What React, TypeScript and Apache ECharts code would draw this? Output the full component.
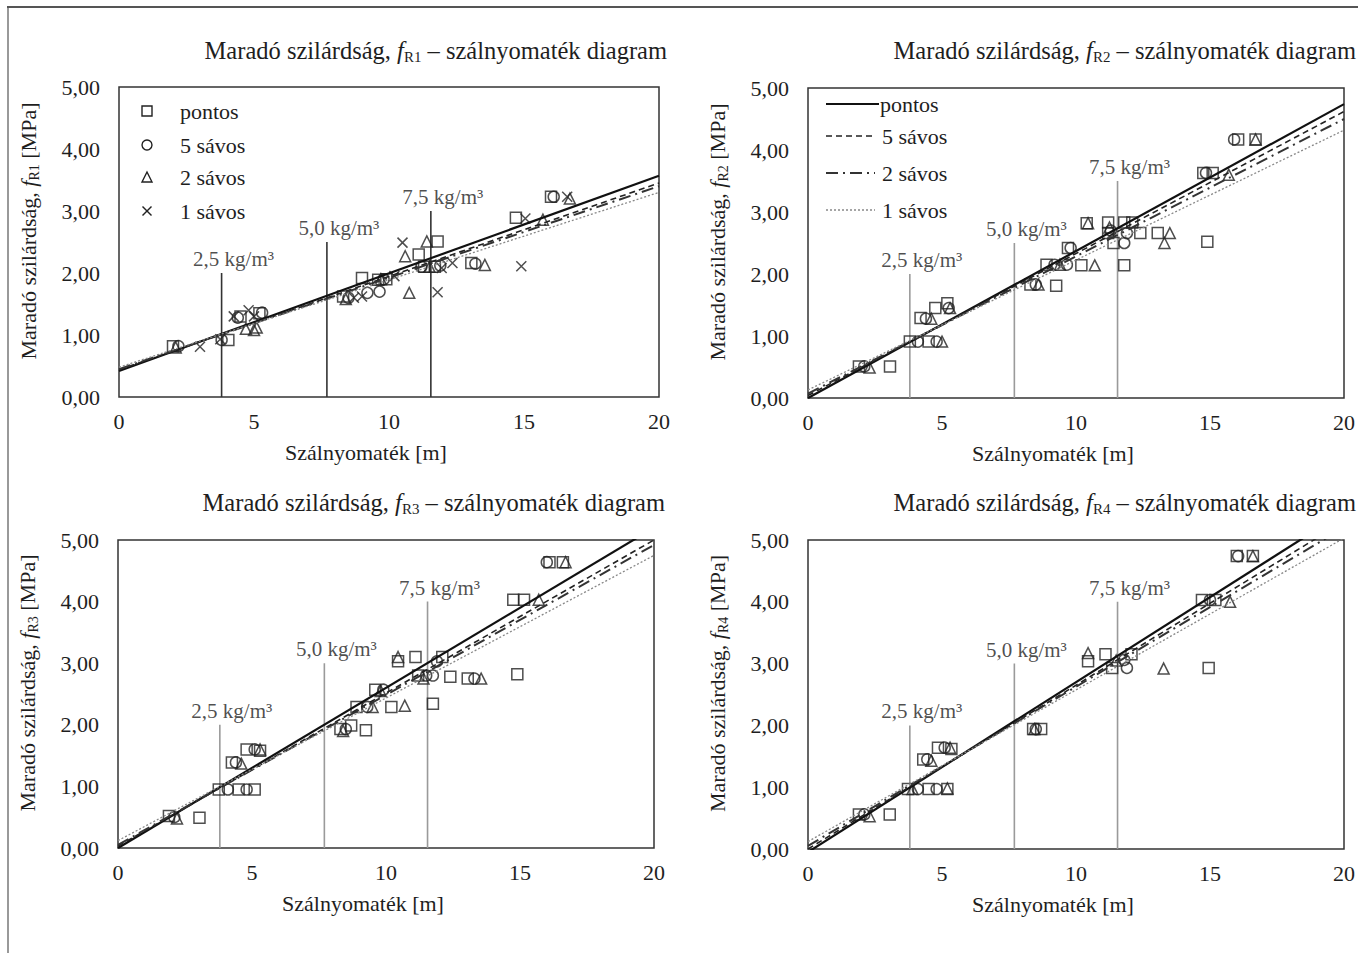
import React, { useEffect, useRef } from 'react';
import * as echarts from 'echarts';

const FONT = '"Liberation Serif", "Times New Roman", serif';
const INK = '#1e1e1e';

// ---- data ----
const seriesNames = ['pontos', '5 sávos', '2 sávos', '1 sávos'];
const chartSubs = ['R1', 'R2', 'R3', 'R4'];
const xTicks = [0, 5, 10, 15, 20];
const yTicks = [0, 1, 2, 3, 4, 5];
const doseX = [3.8, 7.7, 11.55];
const doseLabels = ['2,5 kg/m³', '5,0 kg/m³', '7,5 kg/m³'];
const doseTops1 = [2.0, 2.5, 3.0];
const doseTops2 = [2.0, 2.5, 3.5];
const doseTops3 = [2.0, 3.0, 4.0];
const doseTops4 = [2.0, 3.0, 4.0];

// regression lines: [value at x=0, value at x=20] for pontos, 5 sávos, 2 sávos, 1 sávos
const fit1 = [[0.42, 3.57], [0.44, 3.45], [0.45, 3.40], [0.48, 3.30]];
const fit2 = [[0.0, 4.74], [0.04, 4.62], [0.07, 4.50], [0.13, 4.32]];
const fit3 = [[0.0, 5.2], [0.03, 5.0], [0.05, 4.92], [0.12, 4.75]];
const fit4 = [[-0.05, 5.45], [0.0, 5.3], [0.05, 5.2], [0.12, 5.03]];

const pontos1 = [[2.0, 0.82], [4.05, 0.92], [4.5, 1.30], [5.2, 1.35], [8.3, 1.62], [9.0, 1.92], [9.6, 1.89], [9.9, 1.90], [11.1, 2.30], [11.8, 2.51], [11.3, 2.10], [11.7, 2.10], [13.05, 2.16], [14.7, 2.89], [16.0, 3.23]];
const savos5_1 = [[2.2, 0.82], [3.8, 0.92], [4.4, 1.28], [5.3, 1.36], [8.5, 1.60], [9.2, 1.68], [9.65, 1.70], [9.8, 1.90], [11.2, 2.10], [11.9, 2.12], [13.2, 2.15], [16.1, 3.23]];
const savos2_1 = [[2.1, 0.80], [4.7, 1.10], [5.0, 1.08], [5.1, 1.12], [8.4, 1.58], [9.7, 1.90], [10.6, 2.27], [10.75, 1.68], [11.4, 2.51], [11.5, 2.10], [13.55, 2.13], [15.7, 2.86], [16.7, 3.20]];
const savos1_1 = [[3.0, 0.81], [3.75, 0.93], [4.25, 1.30], [4.8, 1.40], [5.0, 1.30], [8.7, 1.60], [9.0, 1.62], [10.2, 1.95], [10.5, 2.49], [11.8, 1.69], [11.95, 2.08], [12.35, 2.16], [14.9, 2.11], [15.05, 2.88], [16.6, 3.23]];

const pontos2 = [[1.9, 0.51], [3.06, 0.51], [3.8, 0.91], [4.5, 0.91], [4.2, 1.29], [4.75, 1.45], [5.2, 1.53], [8.3, 1.83], [9.26, 1.81], [8.9, 2.15], [9.7, 2.42], [10.2, 2.14], [10.4, 2.82], [11.2, 2.83], [11.8, 2.83], [12.1, 2.83], [11.2, 2.66], [11.4, 2.50], [12.4, 2.66], [13.05, 2.66], [11.8, 2.14], [14.9, 2.52], [14.75, 3.63], [15.1, 3.63], [16.05, 4.17], [16.7, 4.17]];
const savos5_2 = [[2.1, 0.51], [4.1, 0.91], [4.8, 0.91], [4.4, 1.28], [5.25, 1.45], [8.5, 1.83], [9.2, 2.15], [9.66, 2.15], [9.8, 2.42], [11.3, 2.70], [11.8, 2.50], [11.9, 2.66], [14.85, 3.63], [15.9, 4.17]];
const savos2_2 = [[2.3, 0.49], [5.0, 0.91], [4.6, 1.28], [5.3, 1.45], [8.6, 1.83], [9.4, 2.15], [10.7, 2.14], [10.45, 2.82], [11.25, 2.75], [13.3, 2.50], [13.5, 2.66], [15.7, 3.60], [16.7, 4.17]];
const savos1_2: number[][] = [];

const pontos3 = [[1.9, 0.52], [3.04, 0.49], [3.76, 0.95], [4.5, 0.95], [5.1, 0.95], [4.25, 1.39], [4.8, 1.60], [5.3, 1.58], [8.3, 1.93], [8.7, 1.99], [9.25, 1.91], [8.9, 2.29], [9.6, 2.57], [10.2, 2.29], [10.45, 3.03], [11.1, 3.10], [12.1, 3.10], [11.2, 2.80], [12.4, 2.78], [13.05, 2.75], [11.75, 2.34], [14.9, 2.82], [14.75, 4.03], [15.15, 4.03], [16.1, 4.64], [16.6, 4.64]];
const savos5_3 = [[2.1, 0.50], [4.1, 0.95], [4.8, 0.95], [4.4, 1.39], [5.1, 1.60], [8.5, 1.93], [9.3, 2.29], [9.9, 2.57], [11.5, 2.80], [11.75, 2.80], [11.9, 3.03], [13.3, 2.75], [16.0, 4.64]];
const savos2_3 = [[2.2, 0.48], [4.6, 1.37], [5.3, 1.60], [8.4, 1.90], [9.5, 2.29], [9.8, 2.55], [10.7, 2.31], [10.45, 3.10], [11.4, 2.75], [13.55, 2.75], [15.7, 4.03], [16.7, 4.64]];
const savos1_3: number[][] = [];

const pontos4 = [[1.9, 0.56], [3.05, 0.56], [3.73, 0.97], [4.5, 0.97], [5.2, 0.97], [4.3, 1.45], [4.85, 1.64], [5.35, 1.62], [8.4, 1.94], [8.7, 1.94], [10.45, 3.04], [11.1, 3.15], [11.35, 2.93], [12.07, 3.15], [14.95, 2.93], [14.7, 4.03], [15.2, 4.03], [16.0, 4.74], [16.6, 4.74]];
const savos5_4 = [[2.1, 0.56], [4.1, 0.97], [4.8, 0.97], [4.45, 1.45], [5.1, 1.64], [8.5, 1.94], [11.9, 2.93], [11.8, 3.06], [15.0, 4.03], [16.05, 4.74]];
const savos2_4 = [[2.3, 0.53], [3.9, 0.97], [5.2, 0.98], [4.6, 1.43], [5.3, 1.64], [8.45, 1.94], [10.45, 3.17], [11.5, 3.05], [13.27, 2.92], [15.75, 4.00], [16.6, 4.74]];
const savos1_4: number[][] = [];

const chartsData = [
  { pts: [pontos1, savos5_1, savos2_1, savos1_1], fit: fit1, tops: doseTops1 },
  { pts: [pontos2, savos5_2, savos2_2, savos1_2], fit: fit2, tops: doseTops2 },
  { pts: [pontos3, savos5_3, savos2_3, savos1_3], fit: fit3, tops: doseTops3 },
  { pts: [pontos4, savos5_4, savos2_4, savos1_4], fit: fit4, tops: doseTops4 },
];

// ---- layout / style ----
const grids = [
  { left: 119, top: 87, width: 540, height: 310 },
  { left: 808, top: 88, width: 536, height: 310 },
  { left: 118, top: 540, width: 536, height: 308 },
  { left: 808, top: 540, width: 536, height: 309 },
];
const titleRight = [691, 2, 693, 2];
const titleTop = [36, 36, 488, 488];
const doseColor = ['#333', '#9a9a9a', '#9a9a9a', '#9a9a9a'];

const symbols = ['rect', 'circle', 'triangle', 'path://M0,0L10,10M10,0L0,10'];
const fitStyles = [
  { type: 'solid', width: 2.2, color: '#111' },
  { type: [6, 4], width: 1.6, color: '#222' },
  { type: [12, 5, 2, 5], width: 2, color: '#333' },
  { type: [2, 2], width: 1.3, color: '#888' },
];

const subRich = {
  f: { fontStyle: 'italic', fontFamily: FONT, fontSize: 22, color: INK },
  s: { fontFamily: FONT, fontSize: 14, color: INK, padding: [12, 0, 0, 0] },
};

function buildOption() {
  const series: any[] = [];
  const xAxis: any[] = [];
  const yAxis: any[] = [];
  const title: any[] = [];
  chartsData.forEach((cd, i) => {
    xAxis.push({
      gridIndex: i, type: 'value', min: xTicks[0], max: xTicks[xTicks.length - 1], interval: 5,
      axisLine: { show: false }, axisTick: { show: false }, splitLine: { show: false },
      axisLabel: { fontFamily: FONT, fontSize: 22, color: INK, margin: 13 },
      name: 'Szálnyomaték [m]', nameLocation: 'middle', nameGap: 44,
      nameTextStyle: { fontFamily: FONT, fontSize: 22, color: INK, padding: [0, 46, 0, 0] },
    });
    yAxis.push({
      gridIndex: i, type: 'value', min: yTicks[0], max: yTicks[yTicks.length - 1], interval: 1,
      axisLine: { show: false }, axisTick: { show: false }, splitLine: { show: false },
      axisLabel: { fontFamily: FONT, fontSize: 22, color: INK, margin: 19, formatter: (v: number) => v.toFixed(2).replace('.', ',') },
      name: `Maradó szilárdság, {f|f}{s|${chartSubs[i]}} [MPa]`, nameLocation: 'middle', nameGap: 78,
      nameTextStyle: { fontFamily: FONT, fontSize: 22, color: INK, padding: [0, 0, 0, 22], rich: subRich },
    });
    title.push({
      text: `Maradó szilárdság, {f|f}{s|${chartSubs[i]}} – szálnyomaték diagram`,
      right: titleRight[i], top: titleTop[i], padding: 0,
      textStyle: {
        fontFamily: FONT, fontSize: 24.5, fontWeight: 'normal', color: INK,
        rich: { f: { ...subRich.f, fontSize: 24.5 }, s: { ...subRich.s, fontSize: 15, padding: [13, 0, 0, 0] } },
      },
    });
    // dose lines
    doseX.forEach((dx, k) => {
      series.push({
        type: 'line', xAxisIndex: i, yAxisIndex: i, symbol: 'none', silent: true, z: 1,
        data: [[dx, 0], [dx, cd.tops[k]]],
        lineStyle: { color: doseColor[i], width: 1.6 },
      });
    });
    series.push({
      type: 'scatter', xAxisIndex: i, yAxisIndex: i, symbol: 'circle', symbolSize: 1, silent: true,
      itemStyle: { color: 'rgba(0,0,0,0)' },
      data: doseX.map((dx, k) => ({ value: [dx, cd.tops[k]], label: { formatter: doseLabels[k] } })),
      label: { show: true, position: 'top', distance: 3, offset: [12, 0], fontFamily: FONT, fontSize: 21, color: INK },
    });
    // scatter points
    cd.pts.forEach((pts, s) => {
      series.push({
        type: 'scatter', name: seriesNames[s], xAxisIndex: i, yAxisIndex: i, silent: true, z: 3,
        symbol: symbols[s], symbolSize: s === 3 ? 10 : 11,
        itemStyle: { color: 'rgba(0,0,0,0)', borderColor: '#222', borderWidth: 1.5 },
        data: pts,
      });
    });
    // regression lines
    cd.fit.forEach((f, s) => {
      series.push({
        type: 'line', name: seriesNames[s], xAxisIndex: i, yAxisIndex: i, symbol: 'none', silent: true, z: 4,
        clip: true, data: [[0, f[0]], [20, f[1]]],
        lineStyle: { ...fitStyles[s] },
      });
    });
  });

  const legendText = (x: number, y: number, t: string) => ({
    type: 'text', x, y, silent: true,
    style: { text: t, fontFamily: FONT, fontSize: 22, fill: INK, align: 'left', verticalAlign: 'middle' },
  });
  const mk = { stroke: '#222', lineWidth: 1.4, fill: 'none' };
  const ly1 = [111, 145, 177, 211];
  const ly2 = [104, 136, 173, 210];
  const graphic: any[] = [
    { type: 'line', shape: { x1: 7, y1: 7, x2: 1358, y2: 7 }, style: { stroke: '#555', lineWidth: 2 } },
    { type: 'line', shape: { x1: 8, y1: 7, x2: 8, y2: 953 }, style: { stroke: '#555', lineWidth: 1.2 } },
    // legend chart 1 (markers)
    { type: 'rect', shape: { x: 142, y: ly1[0] - 5, width: 10, height: 10 }, style: mk },
    { type: 'circle', shape: { cx: 147, cy: ly1[1], r: 5 }, style: mk },
    { type: 'polygon', shape: { points: [[142, ly1[2] + 5], [152, ly1[2] + 5], [147, ly1[2] - 5]] }, style: mk },
    { type: 'line', shape: { x1: 142.5, y1: ly1[3] - 4.5, x2: 151.5, y2: ly1[3] + 4.5 }, style: mk },
    { type: 'line', shape: { x1: 151.5, y1: ly1[3] - 4.5, x2: 142.5, y2: ly1[3] + 4.5 }, style: mk },
    ...seriesNames.map((n, k) => legendText(180, ly1[k], n)),
    // legend chart 2 (lines)
    ...seriesNames.map((n, k) => ({
      type: 'line', shape: { x1: 826, y1: ly2[k], x2: k === 0 ? 879 : 875, y2: ly2[k] },
      style: { stroke: fitStyles[k].color, lineWidth: fitStyles[k].width, lineDash: k === 0 ? null : fitStyles[k].type },
    })),
    ...seriesNames.map((n, k) => legendText(k === 0 ? 880 : 882, ly2[k], n)),
  ];

  return {
    animation: false,
    backgroundColor: '#fff',
    title,
    grid: grids.map((g) => ({ ...g, show: true, borderColor: '#333', borderWidth: 1.5, backgroundColor: 'transparent' })),
    xAxis,
    yAxis,
    series,
    graphic,
  };
}

export default function App() {
  const ref = useRef<HTMLDivElement>(null);
  useEffect(() => {
    const chart = echarts.init(ref.current!, null, { renderer: 'svg' });
    chart.setOption(buildOption() as any);
    return () => chart.dispose();
  }, []);
  return (
    <div
      ref={ref}
      style={{ position: 'fixed', left: 0, top: 0, width: 1358, height: 953, background: '#fff' }}
    />
  );
}
